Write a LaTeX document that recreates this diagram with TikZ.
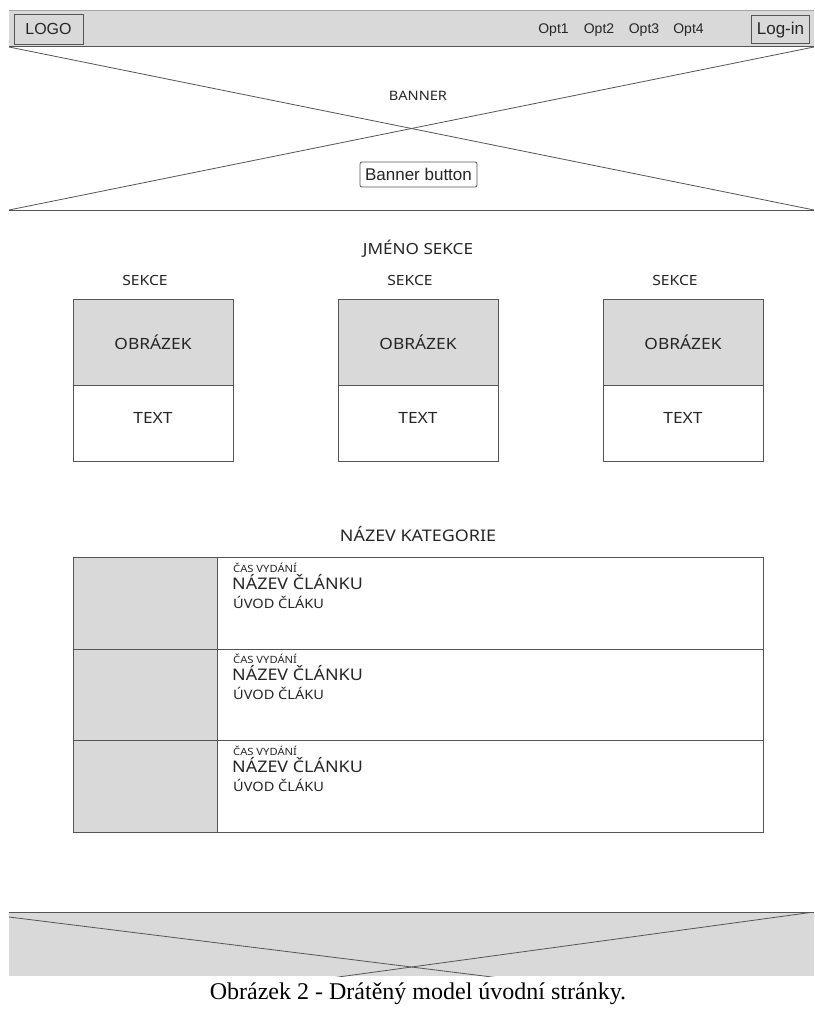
\documentclass[tikz,border=0pt]{standalone}
\usepackage{fontspec}
\setmainfont{Liberation Serif}
\newfontfamily\uifont[FakeStretch=1.12]{Noto Sans}
\newfontfamily\hdfont{Liberation Sans}
\definecolor{gfill}{HTML}{D9D9D9}
\definecolor{gline}{HTML}{555555}
\begin{document}
\begin{tikzpicture}[x=1pt,y=-1pt,
  every node/.style={inner sep=0pt,font=\uifont\fontsize{14}{16}\selectfont,text=black!85},
  ln/.style={draw=gline,line width=0.8pt},
  box/.style={draw=gline,line width=0.8pt},
  imgbox/.style={box,fill=gfill},
  hd/.style={font=\hdfont\fontsize{14}{16}\selectfont},
  small/.style={font=\uifont\fontsize{10}{11}\selectfont},
  big/.style={font=\uifont\fontsize{16}{18}\selectfont},
  mid/.style={font=\uifont\fontsize{13}{15}\selectfont}]
\useasboundingbox (0,0) rectangle (814,1014);
\fill[white] (0,0) rectangle (814,1014);
% header
\fill[gfill] (9,10) rectangle (814,47);
\draw[draw=gray!70,line width=0.8pt] (9,10) -- (814,10);
\draw[ln,line width=1pt] (9,47) -- (814,47);
\node[box,minimum width=69pt,minimum height=30pt] (logo) at (48.5,29) {};
\node[font=\hdfont\fontsize{16}{18}\selectfont,anchor=base] (logot) at (48.5,35) {LOGO};
\node[hd,anchor=base] (o1) at (553.5,34) {Opt1};
\node[hd,anchor=base] (o2) at (599,34) {Opt2};
\node[hd,anchor=base] (o3) at (644,34) {Opt3};
\node[hd,anchor=base] (o4) at (688.5,34) {Opt4};
\node[box,minimum width=58pt,minimum height=28pt] (login) at (780.5,29) {};
\node[font=\hdfont\fontsize{17}{19}\selectfont,anchor=base] (logint) at (780.5,35) {Log-in};
% banner
\coordinate (btl) at (9,47);
\coordinate (btr) at (814,47);
\coordinate (bbl) at (9,210);
\coordinate (bbr) at (814,210);
\draw[ln] (btl) -- (bbr);
\draw[ln] (btr) -- (bbl);
\draw[ln] (bbl) -- (bbr);
\node[font=\uifont\fontsize{13}{15}\selectfont] (banner) at (418,96) {BANNER};
\node[draw=gline,line width=0.8pt,fill=white,rounded corners=2pt,minimum width=117pt,minimum height=25pt] (bbtn) at (418.5,174.5) {};
\node[font=\hdfont\fontsize{17}{19}\selectfont,anchor=base] (bbtnt) at (418.5,180.5) {Banner button};
% sections
\node[font=\uifont\fontsize{15.3}{18}\selectfont] (jmeno) at (418,249) {JMÉNO SEKCE};
\foreach \i/\cx in {1/153,2/418,3/683}{
  \node[font=\uifont\fontsize{14}{16}\selectfont] (sek\i) at (\cx-8,281) {SEKCE};
  \node[imgbox,minimum width=160pt,minimum height=86pt,font=\uifont\fontsize{15.5}{18}\selectfont] (img\i) at (\cx,342) {OBRÁZEK};
  \node[box,fill=white,minimum width=160pt,minimum height=76pt] (txt\i) at (\cx,423) {};
  \node[font=\uifont\fontsize{15.5}{18}\selectfont] (txtl\i) at (\cx,418) {TEXT};
}
% category
\node[font=\uifont\fontsize{16}{18}\selectfont] (kat) at (418,534) {NÁZEV KATEGORIE};
\foreach \r/\y in {1/557,2/648.5,3/740}{
  \node[imgbox,minimum width=144pt,minimum height=91.5pt,anchor=north west] (ri\r) at (73,\y) {};
  \node[box,minimum width=546pt,minimum height=91.5pt,anchor=north west] (rt\r) at (217,\y) {};
  \node[small,anchor=base west] (cas\r) at (233,\y+15) {ČAS VYDÁNÍ};
  \node[big,anchor=base west] (naz\r) at (232,\y+32) {NÁZEV ČLÁNKU};
  \node[mid,anchor=base west] (uvod\r) at (233,\y+51) {ÚVOD ČLÁKU};
}
% footer
\begin{scope}
\clip (9,912) rectangle (814,976);
\fill[gfill] (9,912) rectangle (814,976);
\coordinate (ftl) at (9,917);
\coordinate (ftr) at (814,912);
\coordinate (fbl) at (9,1022);
\coordinate (fbr) at (814,1017);
\draw[ln] (ftl) -- (fbr);
\draw[ln] (ftr) -- (fbl);
\end{scope}
\draw[ln] (9,912) -- (814,912);
\node[font=\rmfamily\fontsize{24}{28}\selectfont,text=black,anchor=base] (cap) at (418,999) {Obrázek 2 - Drátěný model úvodní stránky.};
\end{tikzpicture}
\end{document}
